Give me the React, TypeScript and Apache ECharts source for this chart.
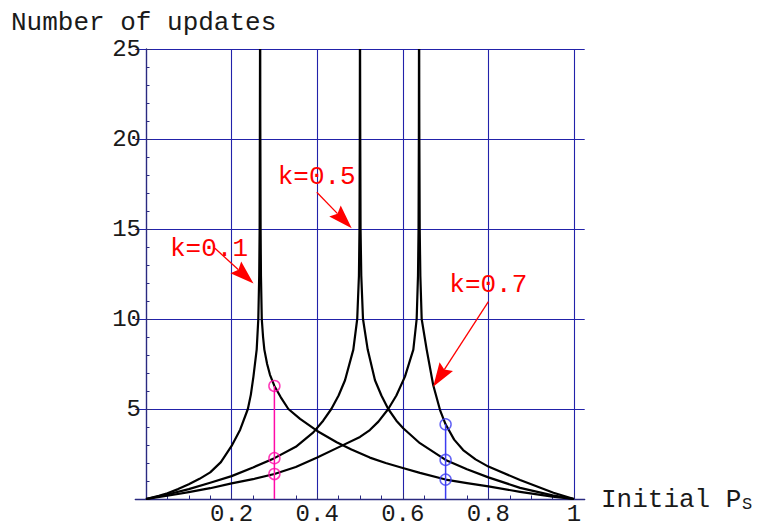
import React, { useEffect, useRef } from 'react';
import * as echarts from 'echarts';

// ---- axes ----
const xTickValues = [0, 0.2, 0.4, 0.6, 0.8, 1];
const yTickValues = [0, 5, 10, 15, 20, 25];

// ---- curves: [initial Ps, number of updates] ----
const curveK01Left: number[][] = [
  [0, 0], [0.03, 0.18], [0.05, 0.32], [0.075, 0.55], [0.1, 0.82], [0.125, 1.12], [0.15, 1.48],
  [0.175, 2.05], [0.2, 2.95], [0.22, 3.85], [0.238, 5.0], [0.245, 5.8], [0.251, 6.8],
  [0.2586, 8.3], [0.2624, 10], [0.2645, 12.4], [0.2655, 15], [0.266, 20], [0.2664, 25],
];
const curveK01Right: number[][] = [
  [0.2667, 25], [0.2672, 20], [0.2678, 15], [0.2686, 12.4], [0.2705, 10], [0.2735, 9.0],
  [0.2765, 8.3], [0.283, 7.5], [0.2897, 6.9], [0.3, 6.28], [0.315, 5.65], [0.3326, 5.0],
  [0.36, 4.45], [0.4, 3.78], [0.4455, 3.15], [0.48, 2.75], [0.523, 2.3], [0.56, 2.0],
  [0.6, 1.72], [0.64, 1.45], [0.7, 1.08], [0.75, 0.88], [0.8, 0.7], [0.874, 0.4],
  [0.95, 0.13], [1, 0],
];
const curveK05Left: number[][] = [
  [0, 0], [0.05, 0.25], [0.1, 0.55], [0.15, 0.9], [0.2, 1.27], [0.25, 1.75], [0.3, 2.27],
  [0.35, 2.9], [0.391, 3.7], [0.414, 4.35], [0.433, 5.0], [0.45, 5.75], [0.465, 6.6],
  [0.4844, 8.3], [0.4935, 10], [0.4975, 12.4], [0.4988, 15], [0.4995, 20], [0.4998, 25],
];
const curveK05Right: number[][] = [
  [0.5002, 25], [0.5006, 20], [0.5013, 15], [0.503, 12.4], [0.507, 10], [0.518, 8.3],
  [0.535, 6.6], [0.55, 5.75], [0.566, 5.0], [0.585, 4.35], [0.601, 3.93], [0.64, 3.1],
  [0.7, 2.17], [0.75, 1.65], [0.8, 1.2], [0.874, 0.62], [0.95, 0.2], [1, 0],
];
const curveK07Left: number[][] = [
  [0, 0], [0.05, 0.18], [0.1, 0.38], [0.15, 0.6], [0.2, 0.87], [0.25, 1.1], [0.3, 1.39],
  [0.35, 1.78], [0.4, 2.3], [0.453, 2.91], [0.5, 3.45], [0.523, 3.83], [0.543, 4.3],
  [0.566, 5.0], [0.585, 5.75], [0.605, 6.8], [0.6246, 8.3], [0.6324, 10], [0.6355, 12.4],
  [0.6368, 15], [0.6375, 20], [0.6378, 25],
];
const curveK07Right: number[][] = [
  [0.6382, 25], [0.6387, 20], [0.6395, 15], [0.641, 12.4], [0.6441, 10], [0.6558, 8.3],
  [0.671, 6.33], [0.687, 4.94], [0.7, 4.15], [0.72, 3.3], [0.741, 2.72], [0.77, 2.2],
  [0.8, 1.8], [0.874, 1.06], [0.952, 0.35], [1, 0],
];

// ---- vertical markers ----
const markerXMagenta = 0.3;
const markerValuesMagenta = [6.28, 2.27, 1.39];
const markerXBlue = 0.7;
const markerValuesBlue = [4.15, 2.17, 1.08];

// ---- annotations (data coordinates) ----
const annotationLabels = ['k=0.1', 'k=0.5', 'k=0.7'];
const annotationTextPos = [[0.1472, 13.89], [0.3988, 17.87], [0.7998, 11.91]];
const arrowStarts = [[0.161, 13.93], [0.399, 17.04], [0.8, 10.96]];
const arrowTips = [[0.2512, 11.97], [0.4806, 15.04], [0.671, 6.24]];

const NAVY = '#2222aa';
const AXIS = '#2a2a80';
const MAGENTA = '#ff0aa8';
const BLUE = '#3c3cf2';
const RED = '#ff0000';
const MONO = "'Liberation Mono', 'DejaVu Sans Mono', monospace";

const curveSeries = (name: string, data: number[][]) => ({
  type: 'line',
  name,
  xAxisIndex: 0,
  yAxisIndex: 0,
  data,
  symbol: 'none',
  showSymbol: false,
  smooth: false,
  clip: true,
  lineStyle: { color: '#000', width: 2.2, join: 'round' },
  z: 3,
});

export default function App() {
  const ref = useRef<HTMLDivElement>(null);

  useEffect(() => {
    const chart = echarts.init(ref.current!, null, { renderer: 'svg' });
    const option: any = {
      animation: false,
      backgroundColor: '#ffffff',
      grid: [
        { left: 146, top: 49, width: 428, height: 450 },
        { left: 135.3, top: 49, width: 449.4, height: 450 },
      ],
      xAxis: [
        {
          gridIndex: 0,
          type: 'value',
          min: xTickValues[0],
          max: xTickValues[xTickValues.length - 1],
          interval: 0.2,
          axisLine: { show: false },
          axisTick: { show: true, inside: true, length: 6, lineStyle: { color: AXIS } },
          minorTick: { show: true, splitNumber: 4, length: 3.5, lineStyle: { color: AXIS } },
          splitLine: { show: true, lineStyle: { color: NAVY, width: 1.1 } },
          axisLabel: {
            formatter: (v: number) => (v === 0 ? '' : String(Math.round(v * 10) / 10)),
            fontFamily: MONO,
            fontSize: 24,
            color: '#1a1a1a',
            margin: 3,
          },
        },
        {
          gridIndex: 1,
          type: 'value',
          min: -0.025,
          max: 1.025,
          axisLine: { show: true, onZero: false, lineStyle: { color: AXIS, width: 1.3 } },
          axisTick: { show: false },
          axisLabel: { show: false },
          splitLine: { show: false },
        },
      ],
      yAxis: [
        {
          gridIndex: 0,
          type: 'value',
          min: yTickValues[0],
          max: yTickValues[yTickValues.length - 1],
          interval: 5,
          axisLine: { show: true, onZero: false, lineStyle: { color: AXIS, width: 1.3 } },
          axisTick: { show: true, inside: true, length: 6, lineStyle: { color: AXIS } },
          minorTick: { show: true, splitNumber: 5, length: 3.5, lineStyle: { color: AXIS } },
          splitLine: { show: false },
          axisLabel: {
            formatter: (v: number) => (v === 0 ? '' : String(v)),
            fontFamily: MONO,
            fontSize: 24,
            color: '#1a1a1a',
            margin: 5,
          },
        },
        {
          gridIndex: 1,
          type: 'value',
          min: yTickValues[0],
          max: yTickValues[yTickValues.length - 1],
          interval: 5,
          axisLine: { show: false },
          axisTick: { show: false },
          axisLabel: { show: false },
          splitLine: { show: true, lineStyle: { color: NAVY, width: 1.1 } },
        },
      ],
      series: [
        curveSeries('k=0.1 left', curveK01Left),
        curveSeries('k=0.1 right', curveK01Right),
        curveSeries('k=0.5 left', curveK05Left),
        curveSeries('k=0.5 right', curveK05Right),
        curveSeries('k=0.7 left', curveK07Left),
        curveSeries('k=0.7 right', curveK07Right),
        {
          type: 'line',
          xAxisIndex: 0,
          yAxisIndex: 0,
          data: [[markerXMagenta, 0], [markerXMagenta, Math.max(...markerValuesMagenta)]],
          symbol: 'none',
          lineStyle: { color: MAGENTA, width: 1.5 },
          z: 4,
        },
        {
          type: 'line',
          xAxisIndex: 0,
          yAxisIndex: 0,
          data: [[markerXBlue, 0], [markerXBlue, Math.max(...markerValuesBlue)]],
          symbol: 'none',
          lineStyle: { color: BLUE, width: 1.5 },
          z: 4,
        },
        {
          type: 'scatter',
          xAxisIndex: 0,
          yAxisIndex: 0,
          data: markerValuesMagenta.map((v) => [markerXMagenta, v]),
          symbol: 'circle',
          symbolSize: 11,
          itemStyle: { color: 'rgba(0,0,0,0)', borderColor: MAGENTA, borderWidth: 1.5 },
          z: 5,
        },
        {
          type: 'scatter',
          xAxisIndex: 0,
          yAxisIndex: 0,
          data: markerValuesBlue.map((v) => [markerXBlue, v]),
          symbol: 'circle',
          symbolSize: 11,
          itemStyle: { color: 'rgba(0,0,0,0)', borderColor: BLUE, borderWidth: 1.5 },
          z: 5,
        },
      ],
    };
    chart.setOption(option);

    const toPx = (p: number[]) =>
      chart.convertToPixel({ xAxisIndex: 0, yAxisIndex: 0 } as any, p) as unknown as number[];

    const elements: any[] = [
      {
        type: 'text',
        x: 11,
        y: 22.5,
        style: { text: 'Number of updates', fontFamily: MONO, fontSize: 26, fill: '#1a1a1a', align: 'left', verticalAlign: 'middle' },
        z: 10,
      },
      {
        type: 'text',
        x: 601,
        y: 500,
        style: { text: 'Initial P', fontFamily: MONO, fontSize: 26, fill: '#1a1a1a', align: 'left', verticalAlign: 'middle' },
        z: 10,
      },
      {
        type: 'text',
        x: 742,
        y: 504.5,
        style: { text: 'S', fontFamily: MONO, fontSize: 17, fill: '#1a1a1a', align: 'left', verticalAlign: 'middle' },
        z: 10,
      },
    ];

    arrowTips.forEach((tip, i) => {
      const s = toPx(arrowStarts[i]);
      const t = toPx(tip);
      const dx = t[0] - s[0];
      const dy = t[1] - s[1];
      const len = Math.hypot(dx, dy);
      const ux = dx / len;
      const uy = dy / len;
      const L = 24;
      const W = 8;
      const bx = t[0] - ux * L;
      const by = t[1] - uy * L;
      const nx = t[0] - ux * L * 0.85;
      const ny = t[1] - uy * L * 0.85;
      elements.push({
        type: 'line',
        shape: { x1: s[0], y1: s[1], x2: nx, y2: ny },
        style: { stroke: RED, lineWidth: 1.3 },
        z: 11,
      });
      elements.push({
        type: 'polygon',
        shape: {
          points: [
            [t[0], t[1]],
            [bx - uy * W, by + ux * W],
            [nx, ny],
            [bx + uy * W, by - ux * W],
          ],
        },
        style: { fill: RED },
        z: 11,
      });
    });

    annotationLabels.forEach((label, i) => {
      const p = toPx(annotationTextPos[i]);
      elements.push({
        type: 'text',
        x: p[0],
        y: p[1],
        style: { text: label, fontFamily: MONO, fontSize: 26, fill: RED, align: 'center', verticalAlign: 'middle' },
        z: 12,
      });
    });

    chart.setOption({ graphic: { elements } });

    return () => {
      chart.dispose();
    };
  }, []);

  return (
    <div
      ref={ref}
      style={{ position: 'fixed', left: 0, top: 0, width: 757, height: 529, background: '#ffffff' }}
    />
  );
}
